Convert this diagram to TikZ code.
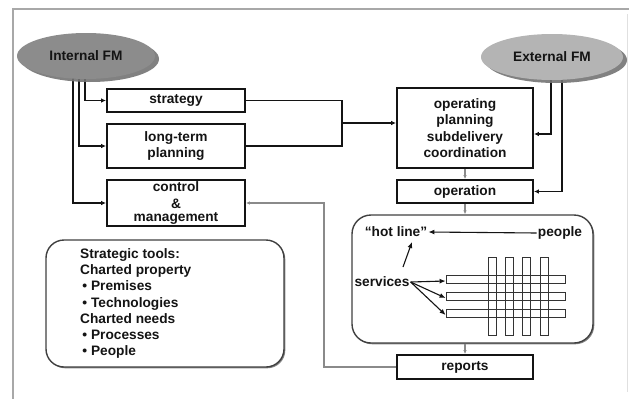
\documentclass[tikz,border=0pt]{standalone}
\usepackage{fontspec}
\setmainfont{Liberation Sans}
\usetikzlibrary{arrows.meta,shapes.geometric,shadows}
\definecolor{inkdark}{HTML}{141414}
\definecolor{frameg}{HTML}{A8A8A8}
\definecolor{intfill}{HTML}{8C8C8C}
\definecolor{extfill}{HTML}{B4B4B4}
\definecolor{flowg}{HTML}{8A8A8A}
\begin{document}
\begin{tikzpicture}[x=1pt,y=-1pt,
  font=\fontsize{13.7}{16.3}\selectfont\bfseries,
  text=inkdark,
  box/.style={draw=inkdark,line width=1.8pt,fill=white,align=center,inner sep=0pt,
    minimum width=136pt},
  panel/.style={draw=black!75,line width=1.4pt,fill=white,rounded corners=19pt,
    inner sep=0pt,drop shadow={shadow xshift=1.3pt,shadow yshift=-1.3pt,fill=black!60,opacity=.8}},
  blob/.style={ellipse,draw=none,minimum width=138pt,minimum height=46pt,inner sep=0pt,
    drop shadow={shadow xshift=4pt,shadow yshift=-3pt,fill=black!55,opacity=.9}},
  conn/.style={draw=inkdark,line width=1.7pt,-{Latex[length=5pt,width=4.5pt]}},
  link/.style={draw=inkdark,line width=1.7pt},
  gflow/.style={draw=flowg,line width=1.2pt,-{Latex[length=4pt,width=3.5pt]}},
  thin/.style={draw=inkdark,line width=1.1pt,-{Latex[length=6pt,width=5pt]}},
  bar/.style={draw=black!80,line width=0.9pt,inner sep=0pt}]
\useasboundingbox (0,0) rectangle (629,399);

% page frame
\draw[frameg,line width=1.6pt] (629,9) -- (13,9) -- (13,399);
\draw[black!12,line width=1pt] (627,14) -- (627,392);

% left column
\node[box,minimum width=138pt,minimum height=23pt] (strat) at (176,100.5) {strategy};
\node[box,minimum width=138pt,minimum height=44pt] (ltp) at (176,146) {long-term\\planning};
\node[box,minimum width=138pt,minimum height=46pt] (ctrl) at (176,203) {control\\\&\\[-3pt]management};

% right column
\node[box,minimum height=80pt] (opp) at (465,128)
  {operating\\planning\\subdelivery\\coordination};
\node[box,minimum height=23pt] (oper) at (465,191.5) {operation};
\node[panel,minimum width=241pt,minimum height=128pt] (svc) at (472.5,279) {};
\node[box,minimum height=24pt] (rep) at (465,367) {reports};

% strategic tools panel
\node[panel,rounded corners=18pt,minimum width=238pt,minimum height=127pt] (tools) at (165,303.5) {};
\node[anchor=west,align=left,inner sep=0pt] (tooltext) at (80,303.5)
  {Strategic tools:\\Charted property\\\,• Premises\\\,• Technologies\\Charted needs\\\,• Processes\\\,• People};

% services panel content
\node[inner sep=1pt] (hot) at (396,232) {“hot line”};
\node[inner sep=1pt] (ppl) at (560,233) {people};
\node[inner sep=1pt] (srv) at (382,282) {services};
\coordinate (s0) at (403,267);
\coordinate (h0) at (412,242);

\foreach \vx [count=\i] in {492,509,526.5,544}
  \node[bar,minimum width=8pt,minimum height=78pt] (vb\i) at (\vx,296) {};
\foreach \hy [count=\i] in {279,296,313}
  \node[bar,minimum width=119pt,minimum height=8pt] (hb\i) at (505.5,\hy) {};

\draw[thin] (ppl.west) -- (hot.east);
\draw[thin] (s0) -- (h0);
\foreach \i in {1,2,3}
  \draw[thin] (srv.east) -- ([yshift=-2pt]hb\i.west);

% internal / external FM
\coordinate (i1) at (73,77);
\coordinate (i2) at (79,77);
\coordinate (i3) at (85,77);
\coordinate (e1) at (551,78);
\coordinate (e2) at (562,78);
\coordinate (e1b) at (551,134);
\coordinate (jn) at (342,123);
\coordinate (fb) at (324,203);

\draw[conn] (i3) |- (strat.west);
\draw[conn] (i2) |- (ltp.west);
\draw[conn] (i1) |- (ctrl.west);

\draw[link] (strat.east) -| (jn) |- (ltp.east);
\draw[conn] (jn) -- (opp.west |- jn);

\draw[conn] (e1) -- (e1b) -- (opp.east |- e1b);
\draw[conn] (e2) |- (oper.east);

\node[blob,fill=intfill] (int) at (86,56) {Internal FM};
\node[blob,fill=extfill,minimum width=142pt] (ext) at (552,57) {External FM};

% grey flow
\draw[gflow] (opp.south) -- (oper.north);
\draw[gflow] (oper.south) -- (svc.north -| oper.south);
\draw[gflow] (svc.south -| rep.north) -- (rep.north);
\draw[gflow] (rep.west) -| (fb) -- (ctrl.east);
\end{tikzpicture}
\end{document}
